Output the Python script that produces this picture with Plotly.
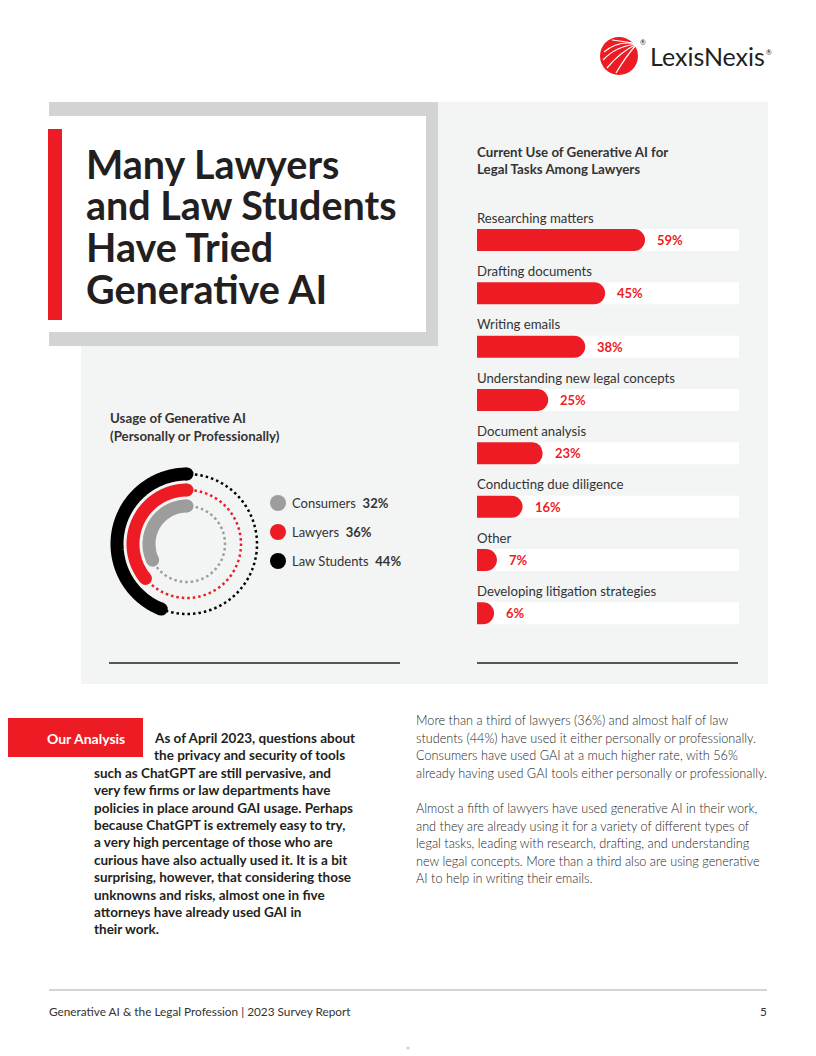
import numpy as np
import plotly.graph_objects as go

PAGE_W, PAGE_H = 816, 1056
OFF = 8  # default body margin of the html page
W, H = PAGE_W - OFF, PAGE_H - OFF
RED = "#ed1c24"
DARK = "#231f20"
TXT = "#333333"

# ---------------- data ----------------
usage_groups = ["Consumers", "Lawyers", "Law Students"]
usage_values = [32, 36, 44]
usage_colors = ["#9d9d9d", RED, "#000000"]

tasks = ["Researching matters", "Drafting documents", "Writing emails",
         "Understanding new legal concepts", "Document analysis",
         "Conducting due diligence", "Other", "Developing litigation strategies"]
task_values = [59, 45, 38, 25, 23, 16, 7, 6]

title_lines = ["Many Lawyers", "and Law Students", "Have Tried", "Generative AI"]

analysis_lines = [
    "As of April 2023, questions about",
    "the privacy and security of tools",
    "such as ChatGPT are still pervasive, and",
    "very few firms or law departments have",
    "policies in place around GAI usage. Perhaps",
    "because ChatGPT is extremely easy to try,",
    "a very high percentage of those who are",
    "curious have also actually used it. It is a bit",
    "surprising, however, that considering those",
    "unknowns and risks, almost one in five",
    "attorneys have already used GAI in",
    "their work.",
]
right_par1 = [
    "More than a third of lawyers (36%) and almost half of law",
    "students (44%) have used it either personally or professionally.",
    "Consumers have used GAI at a much higher rate, with 56%",
    "already having used GAI tools either personally or professionally.",
]
right_par2 = [
    "Almost a fifth of lawyers have used generative AI in their work,",
    "and they are already using it for a variety of different types of",
    "legal tasks, leading with research, drafting, and understanding",
    "new legal concepts. More than a third also are using generative",
    "AI to help in writing their emails.",
]


def X(px):
    return (px - OFF) / W


def Y(py):
    return 1 - (py - OFF) / H


shapes = []
annotations = []
TX = -2  # annotation text padding compensation


def rect(x0, y0, x1, y1, color, layer="below"):
    shapes.append(dict(type="rect", xref="paper", yref="paper",
                       x0=X(x0), x1=X(x1), y0=Y(y1), y1=Y(y0),
                       fillcolor=color, line=dict(width=0), layer=layer))


def hline(x0, x1, y, color, width):
    shapes.append(dict(type="line", xref="paper", yref="paper",
                       x0=X(x0), x1=X(x1), y0=Y(y), y1=Y(y),
                       line=dict(color=color, width=width), layer="below"))


def text(t, x, y, size, color=TXT, bold=False, anchor="left", weight=None, family="Lato"):
    f = dict(family=family, size=size, color=color)
    if weight is not None:
        f["weight"] = weight
    annotations.append(dict(text=("<b>%s</b>" % t) if bold else t,
                            xref="paper", yref="paper", x=X(x), y=Y(y),
                            xanchor=anchor, yanchor="middle", showarrow=False,
                            xshift=TX if anchor == "left" else -TX, font=f))


# ---------------- page layout ----------------
rect(81, 102, 768, 684, "#f3f4f4")
rect(49, 102, 438, 346, "#d1d3d4")
rect(49, 116, 426, 332, "#ffffff")
rect(48, 129, 62, 320, RED)

for i, line in enumerate(title_lines):
    text(line, 86, 163 + i * 41.7, 39.5, DARK, bold=True)

# logo
shapes.append(dict(type="circle", xref="paper", yref="paper",
                   x0=X(600), x1=X(638), y0=Y(75), y1=Y(37),
                   fillcolor=RED, line=dict(width=0), layer="above"))
for p in ["M 637 44 Q 618 40 604 52", "M 637 44 Q 616 46 603 60",
          "M 637 44 Q 620 52 607 68", "M 637 44 Q 626 56 616 73",
          "M 637 44 Q 628 42 612 40"]:
    pts = p.split()

    def cv(a, b):
        return "%f %f" % (X(float(a)), Y(float(b)))
    path = "M %s Q %s %s" % (cv(pts[1], pts[2]), cv(pts[4], pts[5]), cv(pts[6], pts[7]))
    shapes.append(dict(type="path", xref="paper", yref="paper", path=path,
                       line=dict(color="white", width=1.2), layer="above"))
text("LexisNexis", 650, 56, 25, "#231f20")
text("®", 640, 42, 7, "#231f20")
text("®", 766, 52, 7, "#231f20")

# ---------------- usage (radial) chart ----------------
text("<b>Usage of Generative AI</b>", 110, 418, 13.3, TXT)
text("<b>(Personally or Professionally)</b>", 110, 436, 13.3, TXT)

ring_r = [38, 54, 70]
fig = go.Figure()
for g, v, c, r in zip(usage_groups, usage_values, usage_colors, ring_r):
    end = v * 3.6
    th = np.linspace(0, end, 240)
    fig.add_trace(go.Scatterpolar(r=[r] * len(th), theta=th, mode="lines",
                                  line=dict(color=c, width=13), hoverinfo="skip",
                                  showlegend=False, subplot="polar"))
    fig.add_trace(go.Scatterpolar(r=[r, r], theta=[0, end], mode="markers",
                                  marker=dict(color=c, size=13, line=dict(width=0)),
                                  hoverinfo="skip", showlegend=False, subplot="polar"))
    th2 = np.linspace(end + 4, 360, 300)
    fig.add_trace(go.Scatterpolar(r=[r] * len(th2), theta=th2, mode="lines",
                                  line=dict(color=c, width=2.5, dash="2.5px,3px"),
                                  hoverinfo="skip", showlegend=False, subplot="polar"))

for i, (g, v, c) in enumerate(zip(usage_groups, usage_values, usage_colors)):
    cy = 503 + i * 29
    shapes.append(dict(type="circle", xref="paper", yref="paper",
                       x0=X(270), x1=X(286), y0=Y(cy + 8), y1=Y(cy - 8),
                       fillcolor=c, line=dict(width=0), layer="above"))
    text("%s\u00a0 <b>%d%%</b>" % (g, v), 292, cy, 13, TXT)

hline(109, 400, 663, "#222222", 1.5)

# ---------------- task bar chart ----------------
text("<b>Current Use of Generative AI for</b>", 477, 152, 13.3, TXT)
text("<b>Legal Tasks Among Lawyers</b>", 477, 169, 13.3, TXT)

ypos = list(range(len(tasks)))
bw = 22 / 53.33
for i in ypos:
    shapes.append(dict(type="rect", xref="x domain", yref="y", x0=0, x1=1,
                       y0=i - bw / 2, y1=i + bw / 2, fillcolor="white",
                       line=dict(width=0), layer="below"))

fig.add_trace(go.Bar(x=task_values, y=ypos, orientation="h", width=bw,
                     marker=dict(color=RED, cornerradius=11, line=dict(width=0)),
                     hoverinfo="skip", showlegend=False, xaxis="x", yaxis="y"))

for i, (t, v) in enumerate(zip(tasks, task_values)):
    annotations.append(dict(text=t, xref="x domain", yref="y", x=0, y=i - 0.42,
                            xanchor="left", yanchor="middle", showarrow=False, xshift=TX,
                            font=dict(family="Lato", size=13.2, color=TXT)))
    annotations.append(dict(text="<b>%d%%</b>" % v, xref="x", yref="y", x=v, y=i,
                            xanchor="left", yanchor="middle", xshift=10, showarrow=False,
                            font=dict(family="Lato", size=13, color=RED)))

hline(477, 738, 663, "#222222", 1.5)

# ---------------- analysis text ----------------
rect(8, 718, 143, 757, RED)
text("<b>Our Analysis</b>", 47, 738, 14, "white")
for i, line in enumerate(analysis_lines):
    x = 154 if i < 2 else 94
    text("<b>%s</b>" % line, x, 738 + i * 17.4, 13.5, DARK)

for i, line in enumerate(right_par1):
    text(line, 416, 720 + i * 17.6, 12.7, "#262626", weight=300)
for i, line in enumerate(right_par2):
    text(line, 416, 808 + i * 17.6, 12.7, "#262626", weight=300)

# ---------------- footer ----------------
hline(49, 767, 990, "#a7a9ac", 1)
text("Generative AI &amp; the Legal Profession | 2023 Survey Report", 49, 1011, 11.8, TXT)
text("5", 767, 1011, 11.8, TXT, anchor="right")
shapes.append(dict(type="circle", xref="paper", yref="paper",
                   x0=X(406.5), x1=X(409.5), y0=Y(1049.5), y1=Y(1046.5),
                   fillcolor="#cccccc", line=dict(width=0)))

fig.update_layout(
    width=W, height=H, margin=dict(l=0, r=0, t=0, b=0),
    paper_bgcolor="white", plot_bgcolor="rgba(0,0,0,0)",
    font=dict(family="Lato", color=TXT),
    shapes=shapes, annotations=annotations,
    polar=dict(domain=dict(x=[X(107), X(267)], y=[Y(624), Y(464)]),
               bgcolor="rgba(0,0,0,0)",
               radialaxis=dict(range=[0, 80], visible=False, showgrid=False),
               angularaxis=dict(rotation=90, direction="counterclockwise",
                                visible=False, showgrid=False)),
    xaxis=dict(domain=[X(477), X(739)], range=[0, 92], visible=False, fixedrange=True),
    yaxis=dict(domain=[Y(640), Y(200)], range=[7.5, -0.75], visible=False, fixedrange=True),
    barmode="overlay", showlegend=False,
)

fig.write_html("out.html")
